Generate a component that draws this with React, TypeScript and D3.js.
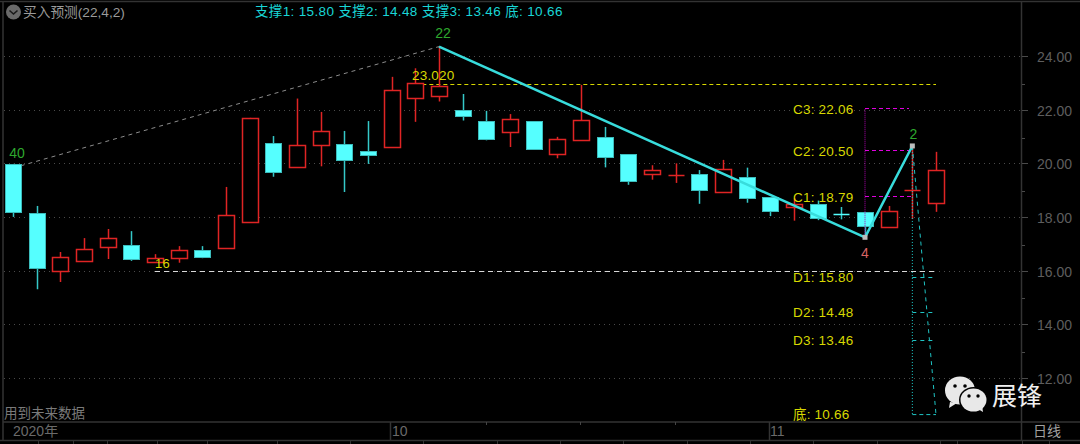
import * as d3 from "d3";

const width = 1080;
const height = 444;

// price of each candle; body top/bottom plus wick ends
const bodyTop = [20.02, 18.19, 16.53, 16.83, 17.25, 17.0, 16.49, 16.79, 16.79, 18.1, 21.74, 20.8, 20.72, 21.26, 20.77, 20.51, 22.79, 23.05, 22.92, 22.04, 21.61, 21.69, 21.61, 20.94, 21.65, 21.02, 20.38, 19.78, 19.62, 19.65, 19.83, 19.54, 18.77, 18.51, 18.52, 18.14, 18.22, 18.26, 19.03, 19.78];
const bodyBottom = [18.24, 16.13, 16.01, 16.38, 16.9, 16.47, 16.37, 16.51, 16.55, 16.87, 17.84, 19.72, 19.89, 20.72, 20.18, 20.37, 20.66, 22.47, 22.57, 21.8, 20.95, 21.21, 20.57, 20.4, 20.91, 20.28, 19.38, 19.64, 19.62, 19.05, 18.96, 18.75, 18.25, 18.41, 18.0, 18.14, 17.69, 17.66, 19.03, 18.55];
const highs = [20.02, 18.45, 16.73, 17.25, 17.59, 17.51, 16.65, 16.95, 16.95, 19.16, 21.74, 21.06, 22.46, 21.96, 21.25, 21.62, 23.27, 23.59, 24.4, 22.63, 22.0, 21.88, 21.61, 21.03, 22.97, 21.4, 20.38, 19.97, 20.04, 19.79, 20.17, 19.88, 18.77, 18.74, 18.65, 18.41, 18.22, 18.45, 20.69, 20.47];
const lows = [18.04, 15.34, 15.61, 16.38, 16.47, 16.4, 16.32, 16.33, 16.5, 16.87, 17.84, 19.54, 19.89, 19.93, 18.97, 20.02, 20.66, 21.59, 22.35, 21.64, 20.9, 20.65, 20.57, 20.23, 20.91, 19.89, 19.24, 19.43, 19.31, 18.53, 18.96, 18.57, 18.07, 17.9, 17.92, 17.95, 17.28, 17.66, 17.96, 18.23];
const upDays = [0, 0, 1, 1, 1, 0, 1, 1, 0, 1, 1, 0, 1, 1, 0, 0, 1, 1, 1, 0, 0, 1, 0, 1, 1, 0, 0, 1, 1, 0, 1, 0, 0, 1, 0, 0, 0, 1, 1, 1];

const priceTicks = [24, 22, 20, 18, 16, 14, 12];
const minorTicks = [23, 21, 19, 17, 15, 13];
const resistance = [{ name: "C3", value: 22.06, end: 38 }, { name: "C2", value: 20.5, end: 38 }, { name: "C1", value: 18.79, end: 38 }];
const support = [{ name: "D1", value: 15.8 }, { name: "D2", value: 14.48 }, { name: "D3", value: 13.46 }];
const bottomPrice = 10.66;
const wave = [{ i: 18, v: 24.4 }, { i: 36, v: 17.28 }, { i: 38, v: 20.69 }];
const dateLabels = [{ text: "10", px: 392 }, { text: "11", px: 770 }];
const footerTabs = [38, 73, 107, 157, 207, 277, 350, 423, 497, 560, 623, 687, 750, 813, 877, 940, 957, 1022, 1049];
const dateTicks = [486, 580, 675];

const x = d3.scaleLinear().domain([0, 39]).range([13, 936]);
const y = d3.scaleLinear().domain([12, 24]).range([378.7, 57.3]);

const RED = "#e02424";
const CYAN = "#55ffff";
const YELLOW = "#d8d800";
const GRID = "#4a4a4a";
const FRAME = "#333333";
const LATIN = "'Liberation Sans', 'Noto Sans CJK SC', sans-serif";

const snap = (v: number) => Math.round(v) + 0.5;

function Candle({ i }: { i: number }) {
  const cx = snap(x(i));
  const top = snap(y(bodyTop[i]));
  const bottom = snap(y(bodyBottom[i]));
  const up = upDays[i] === 1;
  const wick = up ? RED : "#35c8c8";
  const hw = 8;
  const flat = bottom - top < 2;
  return (
    <g>
      <line x1={cx} x2={cx} y1={y(highs[i])} y2={y(lows[i])} stroke={wick} strokeWidth={1.5} />
      {flat ? (
        <line x1={cx - hw} x2={cx + hw} y1={top} y2={top} stroke={up ? RED : CYAN} strokeWidth={1.5} />
      ) : (
        <rect
          x={cx - hw}
          y={top}
          width={hw * 2}
          height={bottom - top}
          fill={up ? "#000" : CYAN}
          stroke={up ? RED : "#3cbcbc"}
          strokeWidth={up ? 1.5 : 1}
        />
      )}
    </g>
  );
}

function WeChatMark() {
  return (
    <g>
      <path d="M950 402 L949 408 L957 403 Z" fill="#e8e8e8" />
      <ellipse cx={960} cy={390.5} rx={15} ry={14} fill="#e8e8e8" />
      <circle cx={955} cy={386} r={1.8} fill="#000" />
      <circle cx={965} cy={386} r={1.8} fill="#000" />
      <ellipse cx={973.5} cy={400} rx={14.5} ry={13} fill="#000" />
      <path d="M978 409 L983 412 L982 405 Z" fill="#e8e8e8" />
      <ellipse cx={973.5} cy={400} rx={13} ry={11.5} fill="#e8e8e8" />
      <circle cx={969} cy={396} r={1.7} fill="#000" />
      <circle cx={978} cy={396} r={1.7} fill="#000" />
      <text x={992} y={405} fontSize={25} fill="#f0f0f0" fontFamily="'Noto Sans CJK SC'">展锋</text>
    </g>
  );
}

export default function App() {
  const waveLine = d3.line<{ i: number; v: number }>().x(d => x(d.i)).y(d => y(d.v));
  const yTop = y(highs[38]);
  const yBottom = y(bottomPrice);
  const xPeak = x(38);
  const xEnd = x(39);
  return (
    <svg
      width={width}
      height={height}
      viewBox={`0 0 ${width} ${height}`}
      style={{ position: "fixed", left: 0, top: 0, background: "#000", display: "block" }}
      fontFamily={LATIN}
    >
      <rect width={width} height={height} fill="#000" />

      {/* frame */}
      <g stroke={FRAME} strokeWidth={1.5} fill="none">
        <line x1={0} x2={width} y1={1.5} y2={1.5} />
        <line x1={3} x2={3} y1={1} y2={441} />
        <line x1={1021.5} x2={1021.5} y1={1} y2={441} />
        <line x1={3} x2={width} y1={422} y2={422} />
        <line x1={0} x2={width} y1={440.5} y2={440.5} />
        <line x1={390.5} x2={390.5} y1={422} y2={440} />
        <line x1={769.5} x2={769.5} y1={422} y2={440} />
      </g>
      {footerTabs.map(px => (
        <line key={px} x1={px + 0.5} x2={px + 0.5} y1={441} y2={444} stroke={FRAME} />
      ))}
      {dateTicks.map(px => (
        <line key={px} x1={px + 0.5} x2={px + 0.5} y1={422} y2={425} stroke="#444" />
      ))}

      {/* price grid and axis */}
      {priceTicks.map(t => (
        <g key={t}>
          <line x1={4} x2={1022} y1={snap(y(t)) - 1} y2={snap(y(t)) - 1} stroke={GRID} strokeDasharray="1 4" />
          <line x1={1022} x2={1028} y1={snap(y(t)) - 1} y2={snap(y(t)) - 1} stroke={GRID} />
          <text x={1072} y={y(t) + 5} textAnchor="end" fontSize={14} fill="#5e5e5e">{t.toFixed(2)}</text>
        </g>
      ))}
      {minorTicks.map(t => (
        <line key={t} x1={1022} x2={1025} y1={snap(y(t))} y2={snap(y(t))} stroke={GRID} />
      ))}

      {/* long dashed guides */}
      <line x1={x(0)} y1={168} x2={x(18)} y2={y(24.4)} stroke="#8c8c8c" strokeDasharray="4 4" />
      <line x1={x(6)} x2={x(39)} y1={snap(y(16)) - 1} y2={snap(y(16)) - 1} stroke="#d8d8d8" strokeDasharray="5 4" />
      <line x1={x(17)} x2={x(39)} y1={snap(y(23.02))} y2={snap(y(23.02))} stroke="#d8d800" strokeDasharray="4 3" />

      {bodyTop.map((_, i) => (
        <Candle key={i} i={i} />
      ))}

      {/* resistance levels */}
      <line x1={x(36)} x2={x(36)} y1={y(22.06)} y2={y(17.28)} stroke="#b000b0" strokeDasharray="1 1" />
      {resistance.map(r => (
        <line
          key={r.name}
          x1={x(36)}
          x2={r.value === 22.06 ? x(36) + 44 : x(r.end)}
          y1={snap(y(r.value)) - 1}
          y2={snap(y(r.value)) - 1}
          stroke="#e000e0"
          strokeDasharray="4 3"
        />
      ))}

      {/* projected drop */}
      <line x1={xPeak} x2={xPeak} y1={yTop} y2={yBottom} stroke="#1fd0d0" strokeDasharray="1 2" />
      <line x1={xPeak} y1={yTop} x2={xEnd} y2={yBottom} stroke="#1fc4c4" strokeDasharray="4 4" />
      <line x1={xPeak} x2={xEnd} y1={yBottom} y2={yBottom} stroke="#1fc4c4" strokeDasharray="4 3" />
      {support.map(s => (
        <line key={s.name} x1={xPeak} x2={xEnd} y1={snap(y(s.value))} y2={snap(y(s.value))} stroke="#1fc4c4" strokeDasharray="4 4" />
      ))}

      <path d={waveLine(wave) ?? ""} fill="none" stroke="#38dcdc" strokeWidth={2.5} />
      <rect x={x(36) - 2.5} y={y(17.28) - 2.5} width={5} height={5} fill="#bdbdbd" />
      <rect x={x(38) - 2.5} y={y(20.69) - 2.5} width={5} height={5} fill="#bdbdbd" />

      {/* level labels */}
      <g fontSize={13.5} fill={YELLOW} letterSpacing={0.2}>
        {resistance.map(r => (
          <text key={r.name} x={793} y={y(r.value) + 5}>{`${r.name}: ${r.value.toFixed(2)}`}</text>
        ))}
        {support.map(s => (
          <text key={s.name} x={793} y={y(s.value) + 5}>{`${s.name}: ${s.value.toFixed(2)}`}</text>
        ))}
        <text x={793} y={y(bottomPrice) + 4}>{`底: ${bottomPrice.toFixed(2)}`}</text>
        <text x={412} y={80} fontSize={13.5}>23.020</text>
        <text x={155} y={268} fontSize={13}>16</text>
      </g>

      {/* wave counts */}
      <g fontSize={14} textAnchor="middle">
        <text x={x(0) + 4} y={158} fill="#2ea82e">40</text>
        <text x={x(18) + 4} y={38} fill="#2ea82e">22</text>
        <text x={x(38) + 1} y={139} fill="#2ea82e">2</text>
        <text x={x(36)} y={258} fill="#d86464">4</text>
      </g>

      {/* header */}
      <circle cx={13.5} cy={12} r={7.5} fill="#6a6a6a" />
      <path d="M9.5 10.5 L13.5 14 L17.5 10.5" fill="none" stroke="#1a1a1a" strokeWidth={1.6} />
      <text x={23} y={17} fontSize={13.7} fill="#9a9a9a">买入预测(22,4,2)</text>
      <text x={255} y={16} fontSize={13.5} fill="#19d6d6" letterSpacing={0.35}>
        支撑1: 15.80 支撑2: 14.48 支撑3: 13.46 底: 10.66
      </text>

      {/* footer */}
      <text x={4} y={418} fontSize={13.5} fill="#7a7a7a">用到未来数据</text>
      <text x={13} y={436} fontSize={14} fill="#6a6a6a">2020年</text>
      {dateLabels.map(d => (
        <text key={d.text} x={d.px} y={436} fontSize={14} fill="#6a6a6a">{d.text}</text>
      ))}
      <text x={1033} y={436} fontSize={14} fill="#a0a0a0">日线</text>

      <WeChatMark />
    </svg>
  );
}
